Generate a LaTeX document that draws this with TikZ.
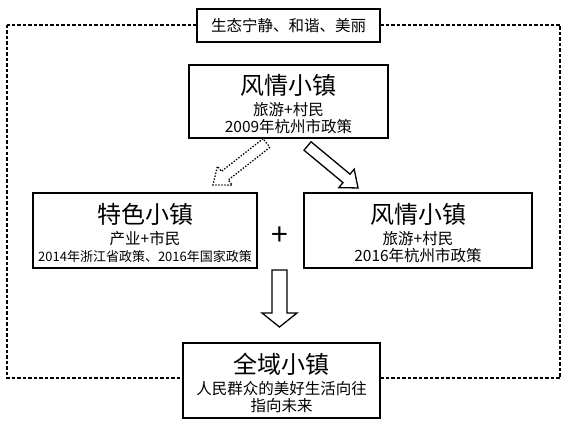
\documentclass[tikz,border=0pt]{standalone}
\usepackage{fontspec}
\setmainfont{Noto Sans CJK SC}
\newcommand\bigttl{\fontsize{24}{26}\selectfont\rule{0pt}{26pt}}
\newcommand\subtx{\fontsize{15.5}{17}\selectfont}
\tikzset{
  box/.style={draw, line width=1.4pt, fill=white, align=center, inner sep=0pt},
  frame/.style={line width=1.6pt, dash pattern=on 3.5pt off 2pt},
  fat/.style={draw, line width=1.3pt, fill=white, line join=miter},
  dotline/.style={line width=1.5pt, dash pattern=on 1.4pt off 1.6pt},
  pics/blockarrow/.style n args={4}{code={
    \draw[fat] (0,-#2) -- ({#1-#4},-#2) -- ({#1-#4},-#3) -- (#1,0)
      -- ({#1-#4},#3) -- ({#1-#4},#2) -- (0,#2) -- cycle;}},
}
\begin{document}
\begin{tikzpicture}[x=1pt,y=-1pt]
\useasboundingbox (0,0) rectangle (569,422);
\draw[frame] (7,25) rectangle (560,378);
\node[box, minimum width=183pt, minimum height=33pt, font=\subtx] (lab) at (288.5,25.5) {生态宁静、和谐、美丽};
\node[box, minimum width=199pt, minimum height=73pt, font=\subtx] (top) at (288.5,101.5)
  {{\bigttl 风情小镇}\\[4pt] 旅游+村民\\ 2009年杭州市政策};
\node[box, minimum width=224pt, minimum height=75pt, font=\subtx] (left) at (145,230.5)
  {{\bigttl 特色小镇}\\[4pt] 产业+市民\\ {\fontsize{13}{17}\selectfont 2014年浙江省政策、2016年国家政策}};
\node[box, minimum width=228pt, minimum height=75pt, font=\subtx] (right) at (418,230.5)
  {{\bigttl 风情小镇}\\[4pt] 旅游+村民\\ 2016年杭州市政策};
\node[box, minimum width=197pt, minimum height=75pt, font=\subtx] (bot) at (281.5,380.5)
  {{\bigttl 全域小镇}\\[4pt] 人民群众的美好生活向往\\ 指向未来};
\node[font=\fontsize{30}{30}\selectfont, inner sep=0pt] (plus) at (280,236) {+};
\pic[rotate=-39.7] at (307.5,146) {blockarrow={65.7}{5.5}{12}{15}};
\pic[rotate=-141.9, dotline] at (266.5,143) {blockarrow={68}{5.5}{12}{15}};
\pic[rotate=-90] at (279.5,270) {blockarrow={57}{7.5}{17.5}{14}};
\end{tikzpicture}
\end{document}
